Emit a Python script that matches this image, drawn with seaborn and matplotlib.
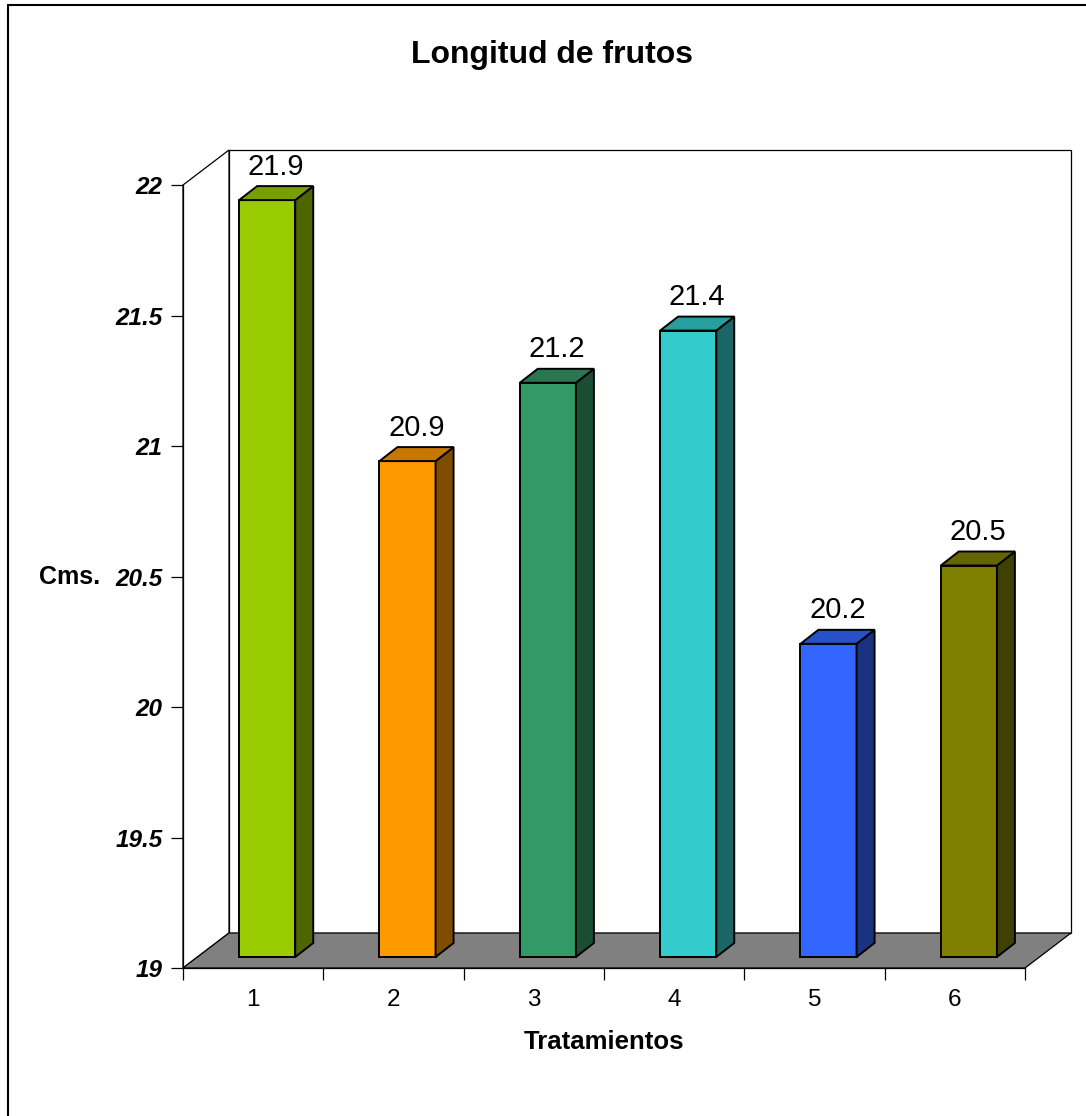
import matplotlib
matplotlib.use("Agg")
import matplotlib.pyplot as plt
import matplotlib.colors as mcolors
from matplotlib.patches import Polygon
from matplotlib.lines import Line2D
import seaborn as sns
import pandas as pd

# data
tratamientos = ["1", "2", "3", "4", "5", "6"]
longitud = [21.9, 20.9, 21.2, 21.4, 20.2, 20.5]
colores = ["#99CC00", "#FF9900", "#339966", "#33CCCC", "#3366FF", "#808000"]
y_ticks = [19, 19.5, 20, 20.5, 21, 21.5, 22]
y_labels = ["19", "19.5", "20", "20.5", "21", "21.5", "22"]

sns.set_theme(style="white")
plt.rcParams['font.family'] = ['Liberation Sans', 'DejaVu Sans']

W, H = 1086, 1116
fig = plt.figure(figsize=(W / 100, H / 100), dpi=100)
ax = fig.add_axes([183 / W, 1 - 968 / H, 842 / W, 783 / H])
ax.set_facecolor("none")

df = pd.DataFrame({"trat": tratamientos, "cm": longitud})
sns.barplot(data=df, x="trat", y="cm", hue="trat", palette=colores,
            width=0.4, saturation=1, legend=False, ax=ax)
bars = sorted(ax.patches, key=lambda p: p.get_x())

y0, y1 = 19, 22
ax.set_xlim(-0.5, 5.5)
ax.set_ylim(y0, y1)

# pixel offsets -> data units for the fake 3D depth
px_x = 842 / 6
px_y = 783 / 3
wx, wy = 46 / px_x, 35 / px_y   # walls / floor depth
sx, sy = 14 / px_x, 11 / px_y   # bar front plane
bx, by = 18 / px_x, 14 / px_y   # bar depth

lw_wall = 0.9
back = Polygon([(-0.5 + wx, y0 + wy), (5.5 + wx, y0 + wy), (5.5 + wx, y1 + wy), (-0.5 + wx, y1 + wy)],
               closed=True, fc="white", ec="black", lw=lw_wall, clip_on=False, zorder=0.2)
left = Polygon([(-0.5, y0), (-0.5 + wx, y0 + wy), (-0.5 + wx, y1 + wy), (-0.5, y1)],
               closed=True, fc="white", ec="black", lw=lw_wall, clip_on=False, zorder=0.3)
floor = Polygon([(-0.5, y0), (5.5, y0), (5.5 + wx, y0 + wy), (-0.5 + wx, y0 + wy)],
                closed=True, fc="#808080", ec="black", lw=lw_wall, clip_on=False, zorder=0.4)
for poly in (back, left, floor):
    ax.add_patch(poly)


def shade(c, f):
    r, g, b = mcolors.to_rgb(c)
    return (r * f, g * f, b * f)


for p, col, v in zip(bars, colores, longitud):
    x0 = p.get_x() + sx
    w = p.get_width()
    top = p.get_height()
    p.set_x(x0)
    p.set_y(y0 + sy)
    p.set_height(top - y0)
    p.set_edgecolor("black")
    p.set_linewidth(1.4)
    p.set_clip_on(False)
    p.set_zorder(2)
    ytop = top + sy
    xr = x0 + w
    side = Polygon([(xr, y0 + sy), (xr + bx, y0 + sy + by), (xr + bx, ytop + by), (xr, ytop)],
                   closed=True, fc=shade(col, 0.5), ec="black", lw=1.4, clip_on=False, zorder=2)
    cap = Polygon([(x0, ytop), (xr, ytop), (xr + bx, ytop + by), (x0 + bx, ytop + by)],
                  closed=True, fc=shade(col, 0.78), ec="black", lw=1.4, clip_on=False, zorder=2)
    ax.add_patch(side)
    ax.add_patch(cap)
    ax.annotate(f"{v:.1f}", xy=(x0 + (w + bx) / 2, ytop + by), xytext=(0, 4),
                textcoords="offset points", ha="center", va="bottom",
                fontsize=21, color="black")

# axes styling
for s in ("top", "right"):
    ax.spines[s].set_visible(False)
for s in ("left", "bottom"):
    ax.spines[s].set_color("black")
    ax.spines[s].set_linewidth(lw_wall)
    ax.spines[s].set_zorder(0.5)
ax.grid(False)
ax.set_xlabel("")
ax.set_ylabel("")

ax.set_yticks(y_ticks)
ax.set_yticklabels(y_labels)
ax.tick_params(axis="y", left=True, length=8.6, width=lw_wall, pad=6,
               labelsize=17.5, color="black", labelcolor="black")
for lbl in ax.get_yticklabels():
    lbl.set_fontweight("bold")
    lbl.set_fontstyle("italic")

ax.set_xticks(range(len(tratamientos)))
ax.set_xticklabels(tratamientos)
ax.set_xticks([i - 0.5 for i in range(len(tratamientos) + 1)], minor=True)
ax.tick_params(axis="x", which="major", bottom=True, length=0, pad=15,
               labelsize=17.5, labelcolor="black")
ax.tick_params(axis="x", which="minor", bottom=True, length=8.6, width=lw_wall,
               color="black")

fig.text(552 / W, 1 - 55 / H, "Longitud de frutos", ha="center", va="center",
         fontsize=23, fontweight="bold", color="black")
fig.text(604 / W, 1 - 1042 / H, "Tratamientos", ha="center", va="center",
         fontsize=18.5, fontweight="bold", color="black")
fig.text(100 / W, 1 - 577 / H, "Cms.", ha="right", va="center",
         fontsize=18, fontweight="bold", color="black")

# outer chart border (left and top only are visible)
fig.add_artist(Line2D([8 / W, 8 / W], [0, 1 - 5 / H], transform=fig.transFigure,
                      color="black", lw=1.5))
fig.add_artist(Line2D([8 / W, 1], [1 - 5 / H, 1 - 5 / H], transform=fig.transFigure,
                      color="black", lw=1.5))

fig.savefig("out.png", dpi=100, facecolor="white")
